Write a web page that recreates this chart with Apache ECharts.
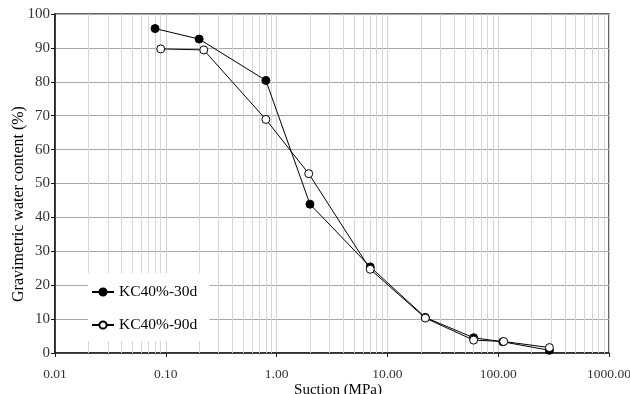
<!DOCTYPE html>
<html>
<head>
<meta charset="utf-8">
<script src="https://cdn.jsdelivr.net/npm/echarts@6/dist/echarts.min.js"></script>
<style>
  html, body { margin: 0; padding: 0; background: #fff; }
  #chart { width: 630px; height: 394px; }
</style>
</head>
<body>
<div id="chart"></div>
<script>
const suction30 = [0.08, 0.2, 0.8, 2.0, 7, 22, 60, 110, 290];
const water30 = [95.7, 92.6, 80.4, 43.9, 25.4, 10.5, 4.5, 3.3, 0.8];
const suction90 = [0.09, 0.22, 0.8, 1.95, 7, 22, 60, 112, 290];
const water90 = [89.7, 89.4, 68.9, 52.9, 24.7, 10.3, 3.8, 3.4, 1.6];
const decades = [0.01, 0.1, 1, 10, 100];
const minorSteps = [2, 3, 4, 5, 6, 7, 8, 9];

const font = "'Liberation Serif', 'DejaVu Serif', serif";

// minor grid lines at 2..9 of each decade
const minorLines = [];
decades.forEach((d) => minorSteps.forEach((m) => minorLines.push({ xAxis: +(d * m).toPrecision(3) })));

const chart = echarts.init(document.getElementById("chart"));

chart.setOption({
  animation: false,
  backgroundColor: "#fff",
  textStyle: { fontFamily: font },
  grid: {
    left: 55, right: 21, top: 14, bottom: 41,
    outerBoundsMode: "none",
    containLabel: false,
    show: true, borderColor: "#333", borderWidth: 1.5, backgroundColor: "transparent",
  },
  legend: {
    orient: "vertical",
    left: 88,
    top: 273,
    padding: [11, 12, 8, 3],
    itemGap: 17,
    itemWidth: 22,
    itemHeight: 9,
    backgroundColor: "#fff",
    textStyle: { fontFamily: font, fontSize: 15.5, color: "#000" },
    data: ["KC40%-30d", "KC40%-90d"],
  },
  xAxis: {
    type: "log",
    logBase: 10,
    min: 0.01,
    max: 1000,
    name: "Suction (MPa)",
    nameLocation: "middle",
    nameGap: 30,
    nameMoveOverlap: false,
    nameTextStyle: { fontFamily: font, fontSize: 15, color: "#000", padding: [0, 0, 0, 12] },
    axisLine: { lineStyle: { color: "#222", width: 1.5 } },
    axisTick: { show: true, length: 4, lineStyle: { color: "#222" } },
    axisLabel: {
      fontFamily: font, fontSize: 13.5, color: "#333", margin: 14,
      formatter: (v) => Number(v).toFixed(2),
    },
    splitLine: { show: true, lineStyle: { color: "#d2d2d2", width: 1 } },
  },
  yAxis: {
    type: "value",
    min: 0,
    max: 100,
    interval: 10,
    name: "Gravimetric water content (%)",
    nameLocation: "middle",
    nameGap: 28,
    nameMoveOverlap: false,
    nameTextStyle: { fontFamily: font, fontSize: 16, color: "#000", padding: [0, 41, 0, 0] },
    axisLine: { show: true, lineStyle: { color: "#111", width: 1.5 } },
    axisTick: { show: true, length: 4, lineStyle: { color: "#111" } },
    axisLabel: { fontFamily: font, fontSize: 15, color: "#333", margin: 5 },
    splitLine: { show: true, lineStyle: { color: "#a8a8a8", width: 1 } },
  },
  series: [
    {
      name: "minor",
      type: "line",
      data: [],
      z: 1,
      silent: true,
      markLine: {
        silent: true,
        symbol: ["none", "none"],
        label: { show: false },
        lineStyle: { color: "#d6d6d6", width: 1, type: "solid" },
        z: 1,
        data: minorLines,
      },
    },
    {
      name: "KC40%-30d",
      type: "line",
      z: 3,
      data: suction30.map((s, i) => [s, water30[i]]),
      symbol: "circle",
      symbolSize: 8,
      lineStyle: { color: "#000", width: 1 },
      itemStyle: { color: "#000", borderColor: "#000", borderWidth: 1 },
    },
    {
      name: "KC40%-90d",
      type: "line",
      z: 4,
      data: suction90.map((s, i) => [s, water90[i]]),
      symbol: "circle",
      symbolSize: 8,
      lineStyle: { color: "#000", width: 1 },
      itemStyle: { color: "#fff", borderColor: "#000", borderWidth: 1 },
    },
  ],
});
</script>
</body>
</html>
